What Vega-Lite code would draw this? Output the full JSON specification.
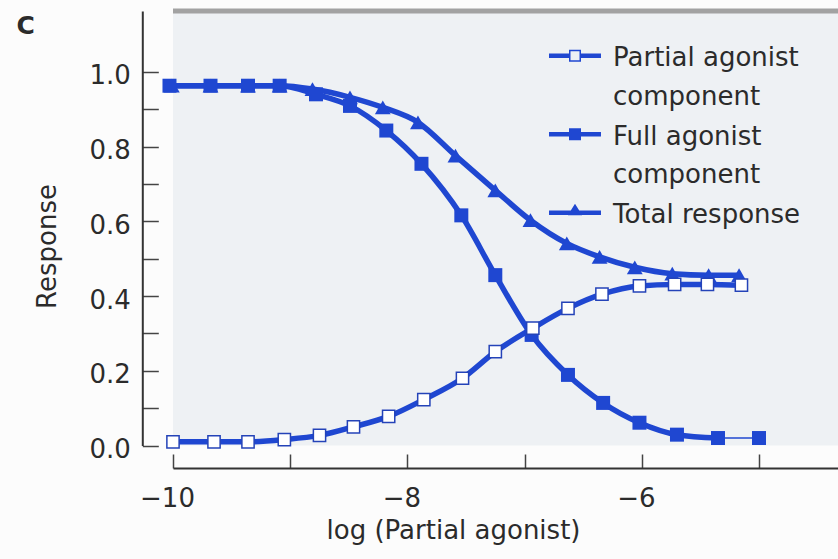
{
  "$schema": "https://vega.github.io/schema/vega-lite/v6.json",
  "autosize": "none",
  "width": 665,
  "height": 434.5,
  "padding": {"left": 173, "top": 11, "right": 0, "bottom": 113.5},
  "background": "#fcfcfc",
  "title": {
    "text": "C",
    "orient": "left",
    "anchor": "end",
    "frame": "group",
    "angle": 0,
    "align": "right",
    "baseline": "top",
    "offset": -19,
    "dy": 3,
    "fontSize": 25,
    "fontWeight": "bold",
    "color": "#2b2b2b"
  },
  "data": {
    "values": [
      {"series": "Partial agonist component", "logConc": -10.0, "response": 0.01},
      {"series": "Partial agonist component", "logConc": -9.65, "response": 0.01},
      {"series": "Partial agonist component", "logConc": -9.36, "response": 0.01},
      {"series": "Partial agonist component", "logConc": -9.05, "response": 0.016},
      {"series": "Partial agonist component", "logConc": -8.75, "response": 0.027},
      {"series": "Partial agonist component", "logConc": -8.46, "response": 0.05},
      {"series": "Partial agonist component", "logConc": -8.16, "response": 0.078},
      {"series": "Partial agonist component", "logConc": -7.86, "response": 0.123},
      {"series": "Partial agonist component", "logConc": -7.53, "response": 0.18},
      {"series": "Partial agonist component", "logConc": -7.25, "response": 0.251},
      {"series": "Partial agonist component", "logConc": -6.93, "response": 0.314},
      {"series": "Partial agonist component", "logConc": -6.63, "response": 0.367},
      {"series": "Partial agonist component", "logConc": -6.34, "response": 0.405},
      {"series": "Partial agonist component", "logConc": -6.02, "response": 0.427},
      {"series": "Partial agonist component", "logConc": -5.72, "response": 0.431},
      {"series": "Partial agonist component", "logConc": -5.44, "response": 0.431},
      {"series": "Partial agonist component", "logConc": -5.15, "response": 0.429},
      {"series": "Full agonist component", "logConc": -10.03, "response": 0.963},
      {"series": "Full agonist component", "logConc": -9.68, "response": 0.963},
      {"series": "Full agonist component", "logConc": -9.36, "response": 0.963},
      {"series": "Full agonist component", "logConc": -9.09, "response": 0.963},
      {"series": "Full agonist component", "logConc": -8.78, "response": 0.94},
      {"series": "Full agonist component", "logConc": -8.49, "response": 0.909},
      {"series": "Full agonist component", "logConc": -8.18, "response": 0.843},
      {"series": "Full agonist component", "logConc": -7.88, "response": 0.754},
      {"series": "Full agonist component", "logConc": -7.54, "response": 0.616},
      {"series": "Full agonist component", "logConc": -7.25, "response": 0.456},
      {"series": "Full agonist component", "logConc": -6.94, "response": 0.296},
      {"series": "Full agonist component", "logConc": -6.63, "response": 0.189},
      {"series": "Full agonist component", "logConc": -6.33, "response": 0.114},
      {"series": "Full agonist component", "logConc": -6.02, "response": 0.061},
      {"series": "Full agonist component", "logConc": -5.7, "response": 0.029},
      {"series": "Full agonist component", "logConc": -5.35, "response": 0.02},
      {"series": "Full agonist component", "logConc": -5.0, "response": 0.02},
      {"series": "Total response", "logConc": -10.01, "response": 0.963},
      {"series": "Total response", "logConc": -9.68, "response": 0.963},
      {"series": "Total response", "logConc": -9.36, "response": 0.963},
      {"series": "Total response", "logConc": -9.09, "response": 0.963},
      {"series": "Total response", "logConc": -8.81, "response": 0.954},
      {"series": "Total response", "logConc": -8.49, "response": 0.932},
      {"series": "Total response", "logConc": -8.21, "response": 0.905},
      {"series": "Total response", "logConc": -7.91, "response": 0.865},
      {"series": "Total response", "logConc": -7.59, "response": 0.776},
      {"series": "Total response", "logConc": -7.25, "response": 0.683},
      {"series": "Total response", "logConc": -6.95, "response": 0.603},
      {"series": "Total response", "logConc": -6.64, "response": 0.541},
      {"series": "Total response", "logConc": -6.36, "response": 0.505},
      {"series": "Total response", "logConc": -6.06, "response": 0.477},
      {"series": "Total response", "logConc": -5.74, "response": 0.46},
      {"series": "Total response", "logConc": -5.43, "response": 0.456},
      {"series": "Total response", "logConc": -5.17, "response": 0.456}
    ]
  },
  "layer": [
    {
      "data": {"values": [{"edge": "top"}]},
      "mark": {"type": "rule", "color": "#a2a2a2", "strokeWidth": 5},
      "encoding": {"y": {"datum": 1.163, "type": "quantitative"}}
    },
    {
      "encoding": {
        "x": {
          "field": "logConc",
          "type": "quantitative",
          "scale": {"domain": [-10, -4.326], "nice": false, "zero": false},
          "axis": {
            "title": "log (Partial agonist)",
            "offset": 22.5,
            "values": [-10, -9, -8, -7, -6, -5],
            "labelExpr": "datum.value % 2 == 0 ? format(datum.value, 'd') : ''",
            "labelFlush": false,
            "tickSize": -14,
            "labelPadding": 31,
            "labelOffset": -6,
            "titleX": 280,
            "titleY": 70,
            "titleBaseline": "alphabetic"
          }
        },
        "y": {
          "field": "response",
          "type": "quantitative",
          "scale": {"domain": [0, 1.163], "nice": false, "zero": false},
          "axis": {
            "title": "Response",
            "offset": 30.7,
            "values": [0, 0.1, 0.2, 0.3, 0.4, 0.5, 0.6, 0.7, 0.8, 0.9, 1.0],
            "labelExpr": "round(datum.value * 10) % 2 == 0 ? format(datum.value, '.1f') : ''",
            "labelFlush": false,
            "tickSize": -16,
            "labelPadding": 28,
            "labelBaseline": "middle",
            "labelOffset": 4,
            "titleX": -87,
            "titleY": 235,
            "titleAngle": -90,
            "titleAlign": "center",
            "titleBaseline": "alphabetic"
          }
        }
      },
      "layer": [
        {
          "transform": [{"filter": "!(datum.series == 'Full agonist component' && datum.logConc > -5.2)"}],
          "mark": {"type": "line", "color": "#1f47d1", "strokeWidth": 5.5, "interpolate": "monotone"},
          "encoding": {
            "detail": {"field": "series"},
            "order": {"field": "logConc", "type": "quantitative"}
          }
        },
        {
          "transform": [{"filter": "datum.series == 'Full agonist component' && datum.logConc > -5.4"}],
          "mark": {"type": "line", "color": "#1f47d1", "strokeWidth": 1.5},
          "encoding": {}
        },
        {
          "transform": [{"filter": "datum.series == 'Total response'"}],
          "mark": {"type": "point", "shape": "triangle-up", "filled": true, "color": "#1f47d1", "size": 250, "opacity": 1},
          "encoding": {}
        },
        {
          "transform": [{"filter": "datum.series == 'Full agonist component'"}],
          "mark": {"type": "point", "shape": "square", "filled": true, "color": "#1f47d1", "size": 196, "opacity": 1},
          "encoding": {}
        },
        {
          "transform": [{"filter": "datum.series == 'Partial agonist component'"}],
          "mark": {"type": "point", "shape": "square", "filled": false, "fill": "#ffffff", "stroke": "#2443b8", "strokeWidth": 1.5, "size": 150, "opacity": 1},
          "encoding": {}
        },
        {
          "mark": {"type": "point", "filled": true, "color": "#1f47d1", "opacity": 0, "size": 144},
          "encoding": {
            "shape": {
              "field": "series",
              "type": "nominal",
              "scale": {
                "domain": ["Partial agonist component", "Full agonist component", "Total response"],
                "range": [
                  "M-4.33,1.425H-1V2.175H-4.33Z M1,1.425H4.33V2.175H1Z M-1,0.8H1V2.8H-1Z M-0.75,1.05V2.55H0.75V1.05Z",
                  "M-4.33,1.425H4.33V2.175H-4.33Z M-1,0.8H1V2.8H-1Z",
                  "M-4.33,1.425H4.33V2.175H-4.33Z M0,0.3L1.2,2.2H-1.2Z"
                ]
              },
              "legend": {
                "orient": "none",
                "legendX": 389,
                "legendY": 21,
                "padding": 0,
                "title": null,
                "symbolSize": 144,
                "symbolFillColor": "#1f47d1",
                "symbolStrokeWidth": 0,
                "symbolOpacity": 1,
                "labelOffset": 25,
                "labelFontSize": 26,
                "labelColor": "#2b2b2b",
                "labelBaseline": "top",
                "labelLimit": 0,
                "rowPadding": 0.5,
                "labelExpr": "indexof(datum.label, ' component') > 0 ? [replace(datum.label, ' component', ''), 'component'] : datum.label"
              }
            }
          }
        }
      ]
    }
  ],
  "config": {
    "font": "DejaVu Sans",
    "view": {"stroke": null, "fill": "#eef1f4"},
    "style": {"guide-label": {"lineHeight": 38.5}},
    "axis": {
      "grid": false,
      "domainColor": "#333333",
      "domainWidth": 2,
      "tickColor": "#444444",
      "tickWidth": 1.5,
      "labelFontSize": 26,
      "labelColor": "#2b2b2b",
      "titleFontSize": 26,
      "titleFontWeight": "normal",
      "titleColor": "#2b2b2b",
      "labelFont": "DejaVu Sans",
      "titleFont": "DejaVu Sans"
    },
    "legend": {"labelFont": "DejaVu Sans"},
    "title": {"font": "DejaVu Sans"}
  }
}
